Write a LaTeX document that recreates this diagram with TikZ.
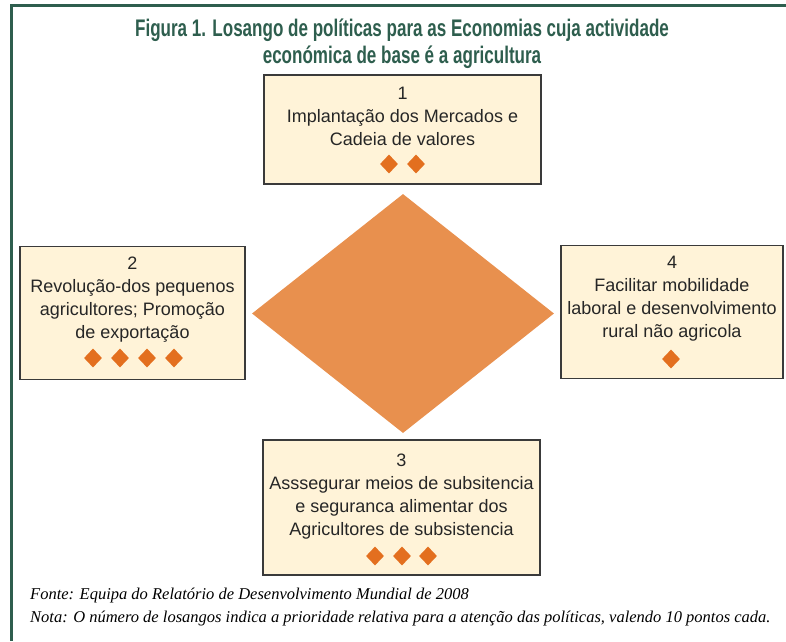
\documentclass[tikz,border=0pt]{standalone}
\usepackage{fontspec}
\setmainfont{Liberation Sans}
\newfontfamily\titlefont[FakeStretch=0.71]{Liberation Sans}
\newfontfamily\notefont{Liberation Serif}
\usetikzlibrary{shapes.geometric,positioning}
\definecolor{framegreen}{HTML}{2E5E4E}
\definecolor{boxcream}{HTML}{FFF3D8}
\definecolor{bigorange}{HTML}{E8904E}
\definecolor{smallorange}{HTML}{E36F1F}
\definecolor{boxedge}{HTML}{3A3A3A}
\tikzset{
  policybox/.style={draw=boxedge,line width=1.5pt,fill=boxcream,inner sep=0pt},
  boxtext/.style={anchor=north,align=center,inner sep=0pt,text=black!85,
    font=\fontsize{18}{23}\selectfont},
  smalldia/.style={diamond,fill=smallorange,inner sep=0pt,
    minimum width=18pt,minimum height=19pt},
}

\begin{document}
\begin{tikzpicture}[x=1pt,y=-1pt]
    \useasboundingbox (0,0) rectangle (786,641);
    \draw [framegreen, line width=3pt] (786,5.8) -- (11.5,5.8) -- (11.5,641);
    \node (titulo) at (402,44) [align=center, text=framegreen,
      font=\titlefont\bfseries\fontsize{24}{27}\selectfont]
      {Figura 1. Losango de políticas para as Economias cuja actividade\\
       económica de base é a agricultura};
    % o losango grande
    \node (losango) at (403,313.5) [diamond, fill=bigorange, inner sep=0pt,
      minimum width=302pt, minimum height=239pt] {};
    % as quatro caixas
    \node (b1) at (402.5,129.5) [policybox, minimum width=277pt, minimum height=109pt] {};
    \node (b2) at (132.5,313) [policybox, minimum width=225pt, minimum height=133pt] {};
    \node (b3) at (401.5,507.5) [policybox, minimum width=277pt, minimum height=135pt] {};
    \node (b4) at (672,312) [policybox, minimum width=222pt, minimum height=133pt] {};
    \node (t1) [boxtext, below=13pt of b1.north]
      {1\\Implantação dos Mercados e\\Cadeia de valores};
    \node (t2) [boxtext, below=11pt of b2.north]
      {2\\Revolução-dos pequenos\\agricultores; Promoção\\de exportação};
    \node (t3) [boxtext, below=14.5pt of b3.north]
      {3\\Asssegurar meios de subsitencia\\e seguranca alimentar dos\\Agricultores de subsistencia};
    \node (t4) [boxtext, below=11pt of b4.north]
      {4\\Facilitar mobilidade\\laboral e desenvolvimento\\rural não agricola};
    % losangos de prioridade
    \foreach \x in {389,416} \node [smalldia] at (\x,164) {};
    \foreach \x in {93,120,147,174} \node [smalldia] at (\x,358) {};
    \foreach \x in {375,402,428} \node [smalldia] at (\x,556) {};
    \node [smalldia] at (671,359) {};
    % notas
    \node (fonte) [anchor=base west, inner sep=0pt, font=\notefont\itshape\fontsize{16.5}{20}\selectfont]
      at (30,599) {Fonte: Equipa do Relatório de Desenvolvimento Mundial de 2008};
    \node (nota) [anchor=base west, inner sep=0pt, font=\notefont\itshape\fontsize{16.5}{20}\selectfont]
      at (30,622) {Nota: O número de losangos indica a prioridade relativa para a atenção das políticas, valendo 10 pontos cada.};
\end{tikzpicture}
\end{document}
